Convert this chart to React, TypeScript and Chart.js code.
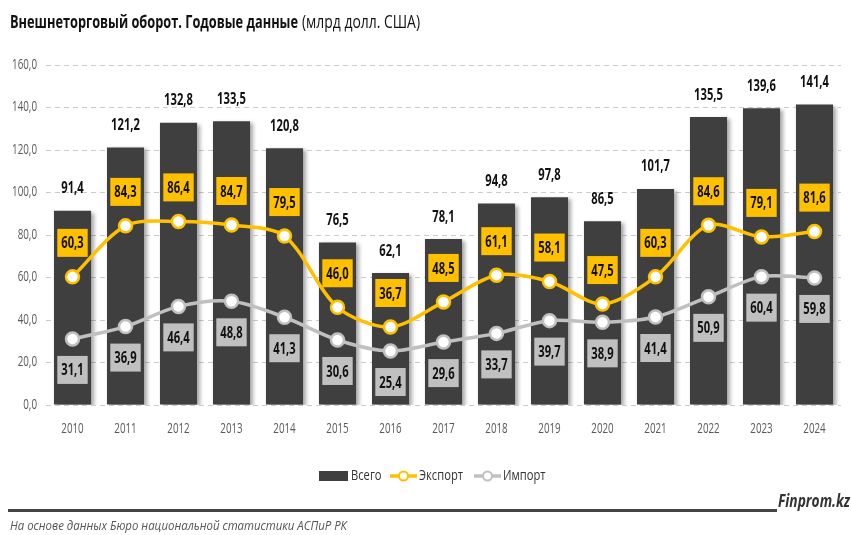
import React, { useEffect, useRef } from "react";
import { Chart, registerables } from "chart.js";

Chart.register(...registerables);

const years = ["2010", "2011", "2012", "2013", "2014", "2015", "2016", "2017", "2018", "2019", "2020", "2021", "2022", "2023", "2024"];
const totalValues = [91.4, 121.2, 132.8, 133.5, 120.8, 76.5, 62.1, 78.1, 94.8, 97.8, 86.5, 101.7, 135.5, 139.6, 141.4];
const exportValues = [60.3, 84.3, 86.4, 84.7, 79.5, 46.0, 36.7, 48.5, 61.1, 58.1, 47.5, 60.3, 84.6, 79.1, 81.6];
const importValues = [31.1, 36.9, 46.4, 48.8, 41.3, 30.6, 25.4, 29.6, 33.7, 39.7, 38.9, 41.4, 50.9, 60.4, 59.8];

const seriesNames = ["Всего", "Экспорт", "Импорт"];
const titleBold = "Внешнеторговый оборот. Годовые данные";
const titleUnit = "(млрд долл. США)";
const sourceText = "На основе данных Бюро национальной статистики АСПиР РК";
const brandText = "Finprom.kz";

const FONT = "'Open Sans', 'Liberation Sans', sans-serif";
const BAR_COLOR = "#3F3F3F";
const EXPORT_COLOR = "#FFC000";
const IMPORT_COLOR = "#C0C0C0";
const TEXT_DARK = "#111111";
const TICK_COLOR = "#595959";
const SX = 0.7;

const fmt = (v: number) => v.toFixed(1).replace(".", ",");

function drawText(
  ctx: CanvasRenderingContext2D,
  text: string,
  x: number,
  y: number,
  font: string,
  color: string,
  sx: number,
  align: CanvasTextAlign = "center"
) {
  ctx.save();
  ctx.font = font;
  ctx.fillStyle = color;
  ctx.textAlign = align;
  ctx.textBaseline = "middle";
  ctx.translate(x, y);
  ctx.scale(sx, 1);
  ctx.fillText(text, 0, 0);
  ctx.restore();
}

function textWidth(ctx: CanvasRenderingContext2D, text: string, font: string) {
  ctx.save();
  ctx.font = font;
  const w = ctx.measureText(text).width;
  ctx.restore();
  return w;
}

function drawFitted(ctx: CanvasRenderingContext2D, text: string, x: number, y: number, font: string, color: string, width: number) {
  const w = textWidth(ctx, text, font);
  drawText(ctx, text, x, y, font, color, width / w, "left");
}

const shadowPlugin = {
  id: "barShadow",
  beforeDatasetDraw(chart: any, args: any) {
    if (args.index === 0) {
      const ctx = chart.ctx;
      ctx.save();
      ctx.shadowColor = "rgba(0,0,0,0.35)";
      ctx.shadowOffsetX = 3;
      ctx.shadowOffsetY = 2;
      ctx.shadowBlur = 4;
    }
  },
  afterDatasetDraw(chart: any, args: any) {
    if (args.index === 0) chart.ctx.restore();
  },
};

const decorPlugin = {
  id: "decor",
  afterDatasetsDraw(chart: any) {
    const ctx: CanvasRenderingContext2D = chart.ctx;
    const bars = chart.getDatasetMeta(0).data;
    const exp = chart.getDatasetMeta(1).data;
    const imp = chart.getDatasetMeta(2).data;
    const labelFont = `bold 16px ${FONT}`;
    const drawBox = (x: number, y: number, text: string, bg: string) => {
      const w = textWidth(ctx, text, labelFont) * SX + 8;
      const h = 28;
      ctx.fillStyle = bg;
      ctx.fillRect(x - w / 2, y - h / 2, w, h);
      drawText(ctx, text, x, y + 1, labelFont, TEXT_DARK, SX);
    };
    for (let i = 0; i < years.length; i++) {
      drawText(ctx, fmt(totalValues[i]), bars[i].x, bars[i].y - 22, labelFont, TEXT_DARK, SX);
      drawBox(exp[i].x, exp[i].y - 34, fmt(exportValues[i]), EXPORT_COLOR);
      drawBox(imp[i].x, imp[i].y + 31, fmt(importValues[i]), IMPORT_COLOR);
    }
  },
  afterDraw(chart: any) {
    const ctx: CanvasRenderingContext2D = chart.ctx;
    const ys = chart.scales.y;
    const xs = chart.scales.x;
    const tickFont = `14px ${FONT}`;
    ys.ticks.forEach((t: any) => {
      drawText(ctx, fmt(t.value), 37, ys.getPixelForValue(t.value), tickFont, TICK_COLOR, SX, "right");
    });
    chart.data.labels.forEach((lab: string, i: number) => {
      drawText(ctx, lab, xs.getPixelForTick(i), 429, tickFont, TICK_COLOR, SX);
    });

    // title
    drawFitted(ctx, titleBold, 10, 23, `bold 18px ${FONT}`, TEXT_DARK, 288);
    drawFitted(ctx, titleUnit, 302, 23, `18px ${FONT}`, TEXT_DARK, 118);

    // legend
    const legFont = `14px ${FONT}`;
    const legSx = 0.8;
    const ly = 476;
    ctx.fillStyle = BAR_COLOR;
    ctx.fillRect(319, 471, 29, 10);
    drawText(ctx, seriesNames[0], 351, ly, legFont, "#333", legSx, "left");
    const lineSym = (x0: number, color: string) => {
      ctx.save();
      ctx.strokeStyle = color;
      ctx.lineWidth = 3.5;
      ctx.beginPath();
      ctx.moveTo(x0, ly);
      ctx.lineTo(x0 + 27, ly);
      ctx.stroke();
      ctx.beginPath();
      ctx.arc(x0 + 13.5, ly, 4.5, 0, Math.PI * 2);
      ctx.fillStyle = "#fff";
      ctx.fill();
      ctx.lineWidth = 2;
      ctx.stroke();
      ctx.restore();
    };
    lineSym(390, EXPORT_COLOR);
    drawText(ctx, seriesNames[1], 419, ly, legFont, "#333", legSx, "left");
    lineSym(474, IMPORT_COLOR);
    drawText(ctx, seriesNames[2], 503, ly, legFont, "#333", legSx, "left");

    // footer
    ctx.fillStyle = "#454545";
    ctx.fillRect(8, 509, 769, 3);
    drawFitted(ctx, brandText, 778, 502, `italic bold 18px ${FONT}`, "#333", 72);
    drawFitted(ctx, sourceText, 10, 526, `italic 13px ${FONT}`, "#555", 337);
  },
};

export default function App() {
  const ref = useRef<HTMLCanvasElement | null>(null);
  useEffect(() => {
    document.body.style.margin = "0";
    if (!ref.current) return;
    const chart = new Chart(ref.current, {
      type: "bar",
      data: {
        labels: years,
        datasets: [
          {
            type: "bar",
            label: seriesNames[0],
            data: totalValues,
            backgroundColor: BAR_COLOR,
            categoryPercentage: 0.8,
            barPercentage: 0.875,
            order: 10,
          } as any,
          {
            type: "line",
            label: seriesNames[1],
            data: exportValues,
            borderColor: EXPORT_COLOR,
            borderWidth: 3.5,
            tension: 0.3,
            pointRadius: 6.5,
            pointBorderWidth: 2.5,
            pointBackgroundColor: "#fff",
            pointBorderColor: EXPORT_COLOR,
            order: 1,
          },
          {
            type: "line",
            label: seriesNames[2],
            data: importValues,
            borderColor: IMPORT_COLOR,
            borderWidth: 3.5,
            tension: 0.3,
            pointRadius: 6.5,
            pointBorderWidth: 2.5,
            pointBackgroundColor: "#fff",
            pointBorderColor: IMPORT_COLOR,
            order: 2,
          },
        ],
      },
      options: {
        animation: false,
        responsive: false,
        devicePixelRatio: 1,
        layout: { padding: { top: 65, right: 10, left: 0, bottom: 85 } },
        plugins: { legend: { display: false }, title: { display: false }, tooltip: { enabled: false } },
        scales: {
          x: {
            grid: { display: false },
            border: { display: false },
            ticks: { display: false },
            afterFit: (s: any) => { s.height = 45; },
          },
          y: {
            min: 0,
            max: 160,
            ticks: { stepSize: 20, display: false },
            grid: { color: "#CCCCCC", lineWidth: 1, drawTicks: false },
            border: { display: false, dash: [5, 4] },
            afterFit: (s: any) => { s.width = 46; },
          },
        },
      },
      plugins: [shadowPlugin, decorPlugin],
    });
    return () => chart.destroy();
  }, []);

  return (
    <div style={{ width: 851, height: 535, background: "#fff" }}>
      <canvas ref={ref} width={851} height={535} style={{ display: "block", width: 851, height: 535 }} />
    </div>
  );
}
